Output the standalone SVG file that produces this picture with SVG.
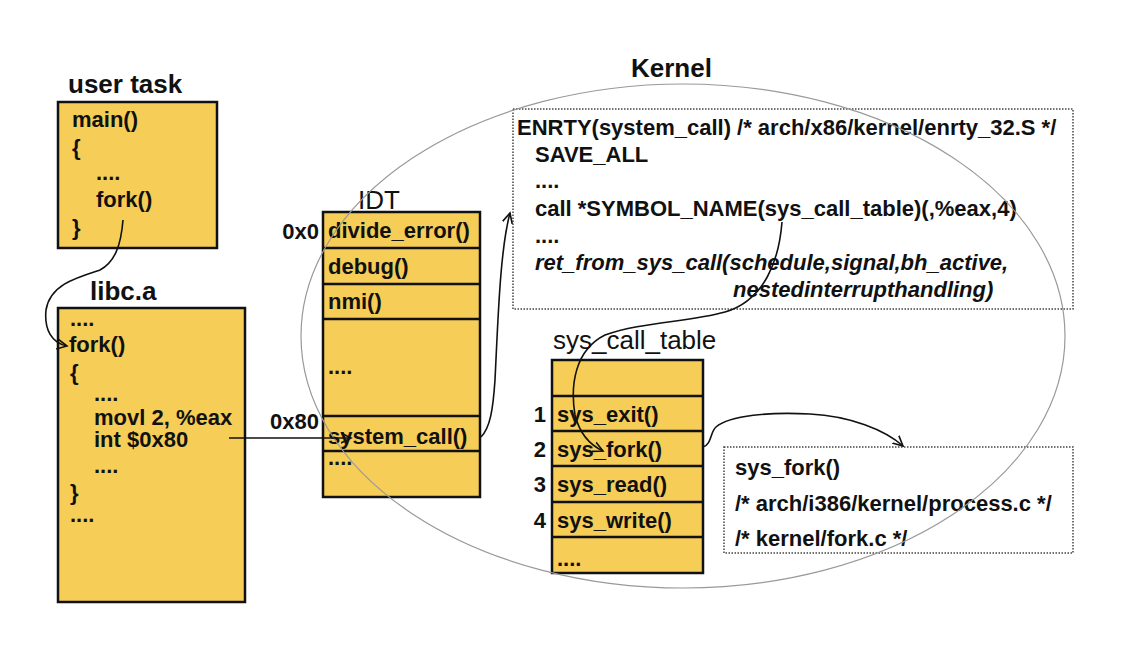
<svg xmlns="http://www.w3.org/2000/svg" width="1126" height="660" viewBox="0 0 1126 660">
<defs>
<style>
.box{fill:#F6CD57;stroke:#111;stroke-width:2.5}
.row{stroke:#111;stroke-width:2.5}
.dot{fill:none;stroke:#444;stroke-width:1.5;stroke-dasharray:1.5 1.5}
.t{font-family:"Liberation Sans",Arial,sans-serif;font-weight:bold;font-size:22px;fill:#111}
.ti{font-family:"Liberation Sans",Arial,sans-serif;font-weight:bold;font-style:italic;font-size:22px;fill:#111}
.lb{font-family:"Liberation Sans",Arial,sans-serif;font-weight:bold;font-size:26px;fill:#111}
.lr{font-family:"Liberation Sans",Arial,sans-serif;font-size:26px;fill:#111}
.c{fill:none;stroke:#111;stroke-width:1.6}
</style>
<marker id="ah" markerUnits="userSpaceOnUse" markerWidth="12" markerHeight="12" refX="10" refY="5" orient="auto" viewBox="0 0 12 10">
<path d="M0,0 L10,5 L0,10" fill="none" stroke="#111" stroke-width="1.6"/>
</marker>
</defs>
<rect width="1126" height="660" fill="#fff"/>

<g id="user-task">
<text class="lb" x="68" y="93">user task</text>
<rect class="box" x="58" y="102" width="159" height="146"/>
<text class="t" x="72" y="127">main()</text>
<text class="t" x="72" y="155">{</text>
<text class="t" x="96" y="180">....</text>
<text class="t" x="96" y="207">fork()</text>
<text class="t" x="72" y="235">}</text>
</g>

<g id="libc">
<text class="lb" x="90" y="300">libc.a</text>
<rect class="box" x="58" y="308" width="187" height="294"/>
<text class="t" x="70" y="326">....</text>
<text class="t" x="69" y="352">fork()</text>
<text class="t" x="70" y="380">{</text>
<text class="t" x="94" y="401">....</text>
<text class="t" x="94" y="425">movl 2, %eax</text>
<text class="t" x="94" y="447">int $0x80</text>
<text class="t" x="94" y="473">....</text>
<text class="t" x="70" y="500">}</text>
<text class="t" x="70" y="522">....</text>
</g>

<g id="idt">
<text class="lr" x="358" y="209">IDT</text>
<rect class="box" x="323" y="212" width="157" height="285"/>
<line class="row" x1="323" y1="248" x2="480" y2="248"/>
<line class="row" x1="323" y1="284" x2="480" y2="284"/>
<line class="row" x1="323" y1="319" x2="480" y2="319"/>
<line class="row" x1="323" y1="416" x2="480" y2="416"/>
<line class="row" x1="323" y1="451" x2="480" y2="451"/>
<text class="t" x="319" y="239" text-anchor="end">0x0</text>
<text class="t" x="319" y="429" text-anchor="end">0x80</text>
<text class="t" x="328" y="238">divide_error()</text>
<text class="t" x="328" y="274">debug()</text>
<text class="t" x="328" y="309">nmi()</text>
<text class="t" x="328" y="374">....</text>
<text class="t" x="328" y="444">system_call()</text>
<text class="t" x="328" y="465">....</text>
</g>

<g id="entry">
<rect class="dot" x="513" y="109" width="560" height="200"/>
<text class="t" x="517" y="135">ENRTY(system_call) /* arch/x86/kernel/enrty_32.S */</text>
<text class="t" x="535" y="162">SAVE_ALL</text>
<text class="t" x="535" y="188">....</text>
<text class="t" x="535" y="216">call *SYMBOL_NAME(sys_call_table)(,%eax,4)</text>
<text class="t" x="535" y="243">....</text>
<text class="ti" x="535" y="270">ret_from_sys_call(schedule,signal,bh_active,</text>
<text class="ti" x="733" y="297">nestedinterrupthandling)</text>
</g>

<g id="sys-call-table">
<text class="lr" x="553" y="349">sys_call_table</text>
<rect class="box" x="552" y="360" width="151" height="213"/>
<line class="row" x1="552" y1="396" x2="703" y2="396"/>
<line class="row" x1="552" y1="431" x2="703" y2="431"/>
<line class="row" x1="552" y1="466" x2="703" y2="466"/>
<line class="row" x1="552" y1="502" x2="703" y2="502"/>
<line class="row" x1="552" y1="537" x2="703" y2="537"/>
<text class="t" x="546" y="422" text-anchor="end">1</text>
<text class="t" x="546" y="457" text-anchor="end">2</text>
<text class="t" x="546" y="492" text-anchor="end">3</text>
<text class="t" x="546" y="528" text-anchor="end">4</text>
<text class="t" x="557" y="422">sys_exit()</text>
<text class="t" x="557" y="457">sys_fork()</text>
<text class="t" x="557" y="492">sys_read()</text>
<text class="t" x="557" y="528">sys_write()</text>
<text class="t" x="557" y="566">....</text>
</g>

<g id="sys-fork">
<rect class="dot" x="724" y="447" width="349" height="106"/>
<text class="t" x="735" y="475">sys_fork()</text>
<text class="t" x="735" y="511">/* arch/i386/kernel/process.c */</text>
<text class="t" x="735" y="546">/* kernel/fork.c */</text>
</g>

<g id="kernel">
<text class="lb" x="631" y="77">Kernel</text>
<ellipse cx="683" cy="336" rx="382" ry="252" fill="none" stroke="#999" stroke-width="1.2"/>
</g>

<g id="connectors">
<path class="c" marker-end="url(#ah)" d="M123,220 C121,245 115,262 100,270 C75,278 50,285 46,310 C44,330 52,343 67,346"/>
<path class="c" marker-end="url(#ah)" d="M229,438 L351,438"/>
<path class="c" marker-end="url(#ah)" d="M481,437 C490,428 493,410 495,380 C498,320 500,250 510,213"/>
<path class="c" marker-end="url(#ah)" d="M782,222 C779,260 765,300 725,312 C690,322 640,322 605,335 C575,350 570,385 575,415 C580,435 590,445 603,451"/>
<path class="c" marker-end="url(#ah)" d="M703,447 C712,444 710,432 716,427 C730,415 770,412 810,414 C850,416 885,430 903,446"/>
</g>
</svg>
